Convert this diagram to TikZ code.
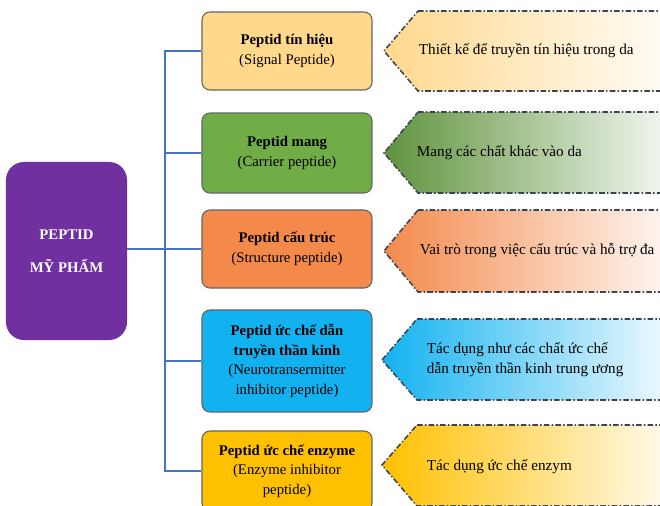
\documentclass[tikz,border=0pt]{standalone}
\usepackage{fontspec}
\setmainfont{Liberation Serif}

\definecolor{rootpurple}{HTML}{7030A0}
\definecolor{linkblue}{HTML}{4472C4}
\definecolor{tagline}{HTML}{3C4452}
\definecolor{sigfill}{HTML}{FFD88C}
\definecolor{carfill}{HTML}{70AD47}
\definecolor{strfill}{HTML}{F38A4C}
\definecolor{neufill}{HTML}{12B2F0}
\definecolor{enzfill}{HTML}{FFC000}

\tikzset{
  pbox/.style={draw=black!60, line width=0.8pt, rounded corners=0.2cm,
    minimum width=4.25cm, align=center, inner sep=2pt,
    font=\fontsize{10.5}{14}\selectfont},
  conn/.style={draw=linkblue, line width=1.4pt},
  tag/.style={draw=tagline, line width=1.1pt,
    dash pattern=on 4pt off 1.6pt on 1pt off 1.6pt, right color=white},
  tagtext/.style={anchor=west, align=left, font=\fontsize{10.8}{14.2}\selectfont}
}

\begin{document}
\begin{tikzpicture}[x=0.025cm, y=-0.025cm]
\useasboundingbox (0,0) rectangle (660,506);

% the root box
\node[fill=rootpurple, rounded corners=0.45cm, minimum width=3.025cm, minimum height=4.45cm,
  text=white, align=center, font=\fontsize{10.5}{22}\selectfont\bfseries] (root) at (66.5,251) {PEPTID\\[1pt]MỸ PHẨM};

% the five kinds
\node[pbox, fill=sigfill, minimum height=1.95cm] (sig) at (287,51) {\textbf{Peptid tín hiệu}\\(Signal Peptide)};
\node[pbox, fill=carfill, minimum height=2.0cm] (car) at (287,153) {\textbf{Peptid mang}\\(Carrier peptide)};
\node[pbox, fill=strfill, minimum height=1.95cm] (str) at (287,249) {\textbf{Peptid cấu trúc}\\(Structure peptide)};
\node[pbox, fill=neufill, minimum height=2.55cm] (neu) at (287,361) {\textbf{Peptid ức chế dẫn}\\\textbf{truyền thần kinh}\\(Neurotransermitter\\inhibitor peptide)};
\node[pbox, fill=enzfill, minimum height=2.0cm] (enz) at (287,471) {\textbf{Peptid ức chế enzyme}\\(Enzyme inhibitor\\peptide)};

% connectors
\coordinate (trunk) at (165,249);
\draw[conn] (root.east |- str.west) -- (str.west);
\draw[conn] (sig.west) -- (sig.west -| trunk) -- (enz.west -| trunk) -- (enz.west);
\draw[conn] (car.west) -- (car.west -| trunk);
\draw[conn] (neu.west) -- (neu.west -| trunk);

% the tags on the right
\shadedraw[tag, left color=sigfill] (418,11) -- (690,11) -- (690,91) -- (418,91) -- (384,51) -- cycle;
\shadedraw[tag, left color=carfill!85!black] (418,112) -- (690,112) -- (690,193) -- (418,193) -- (384,153) -- cycle;
\shadedraw[tag, left color=strfill] (418,210) -- (690,210) -- (690,292) -- (418,292) -- (384,251) -- cycle;
\shadedraw[tag, left color=neufill] (417,319) -- (690,319) -- (690,400) -- (417,400) -- (382,360) -- cycle;
\shadedraw[tag, left color=enzfill] (417,425) -- (690,425) -- (690,506) -- (417,506) -- (382,465) -- cycle;

\node[tagtext] (sigtag) at (414,51) {Thiết kế để truyền tín hiệu trong da};
\node[tagtext] (cartag) at (412,153) {Mang các chất khác vào da};
\node[tagtext] (strtag) at (415,251) {Vai trò trong việc cấu trúc và hỗ trợ đa};
\node[tagtext] (neutag) at (422,360) {Tác dụng như các chất ức chế\\dẫn truyền thần kinh trung ương};
\node[tagtext] (enztag) at (422,467) {Tác dụng ức chế enzym};
\end{tikzpicture}
\end{document}
